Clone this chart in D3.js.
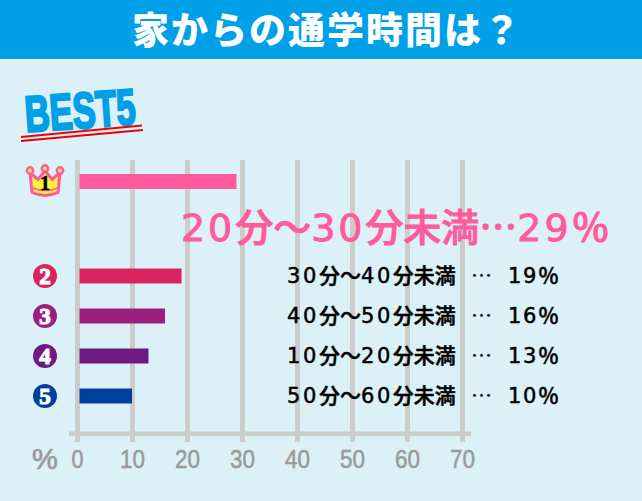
<!DOCTYPE html>
<html>
<head>
<meta charset="utf-8">
<script src="https://cdn.jsdelivr.net/npm/d3@7"></script>
<style>
html, body { margin: 0; padding: 0; background: #dcf0f7; }
svg { display: block; }
text { font-family: "Noto Sans CJK JP", sans-serif; }
</style>
</head>
<body>
<div id="chart"></div>
<script>
var titleText = "家からの通学時間は？";
var ranks = [1, 2, 3, 4, 5];
var categories = ["20分～30分未満", "30分～40分未満", "40分～50分未満", "10分～20分未満", "50分～60分未満"];
var values = [29, 19, 16, 13, 10];
var colors = ["#ff5a9d", "#d9245f", "#9c1f80", "#6f1a80", "#003f9e"];
var tickValues = [0, 10, 20, 30, 40, 50, 60, 70];

var width = 642, height = 501;

var svg = d3.select("#chart").append("svg")
    .attr("width", width)
    .attr("height", height);

// Digits are wide in the original, so they get their own font and spacing.
function addMixedText(sel, str, size, digitGap) {
    sel.attr("font-size", size).attr("font-weight", 500);
    str.match(/\d+|\D+/g).forEach(function(run) {
        var isDigits = /\d/.test(run);
        sel.append("tspan")
            .style("font-family", isDigits ? "'DejaVu Sans', sans-serif" : "'Noto Sans CJK JP', sans-serif")
            .style("letter-spacing", isDigits ? digitGap + "px" : "0px")
            .text(run);
    });
}

svg.append("rect").attr("width", width).attr("height", height).attr("fill", "#dcf0f7");

// Title band
svg.append("rect").attr("width", width).attr("height", 59).attr("fill", "#00a0e9");
svg.append("text")
    .attr("x", 132).attr("y", 44)
    .attr("fill", "#fff")
    .attr("font-size", 37)
    .attr("font-weight", 900)
    .attr("textLength", 388)
    .attr("lengthAdjust", "spacing")
    .text(titleText);

// BEST5 logo
var logo = svg.append("g").attr("transform", "translate(26,132) rotate(-4)");
logo.append("text")
    .attr("fill", "#00a0e9")
    .attr("stroke", "#00a0e9")
    .attr("stroke-width", 2.4)
    .attr("font-size", 51)
    .attr("font-weight", 700)
    .style("font-family", "'Liberation Sans Narrow', 'Liberation Sans', sans-serif")
    .attr("textLength", 111)
    .attr("lengthAdjust", "spacingAndGlyphs")
    .text("BEST5");
svg.append("path")
    .attr("d", "M21,137 L142,125.5 M21,141 L143,130")
    .attr("stroke", "#f00000")
    .attr("stroke-width", 2)
    .attr("fill", "none");

// Scales
var x = d3.scaleLinear().domain([0, 70]).range([77, 462]);
var y = d3.scaleLinear().domain([1, 2, 5]).range([181.5, 276, 396]);

// Axis: long ticks are the grey gridlines
var axisG = svg.append("g")
    .attr("transform", "translate(0,442)")
    .call(d3.axisBottom(x).tickValues(tickValues).tickSize(282).tickSizeOuter(0).tickPadding(0));
axisG.select(".domain").remove();
axisG.selectAll(".tick line")
    .attr("y1", 0).attr("y2", -282)
    .attr("stroke", "#cccccc")
    .attr("stroke-width", 5);
axisG.selectAll(".tick text")
    .attr("y", 26).attr("dy", 0)
    .attr("fill", "#999999")
    .attr("stroke", "#999999")
    .attr("stroke-width", 0.5)
    .attr("font-size", 25)
    .style("font-family", "'Liberation Sans Narrow', 'Liberation Sans', sans-serif")
    .attr("textLength", function(d) { return d === 0 ? 12 : 25; })
    .attr("lengthAdjust", "spacingAndGlyphs");

svg.append("rect")
    .attr("x", 69).attr("y", 431.5)
    .attr("width", 402).attr("height", 4.5)
    .attr("fill", "#cccccc");

svg.append("text")
    .attr("x", 45).attr("y", 469)
    .attr("text-anchor", "middle")
    .attr("fill", "#999999")
    .attr("stroke", "#999999")
    .attr("stroke-width", 0.7)
    .attr("font-size", 29)
    .style("font-family", "'Liberation Sans', sans-serif")
    .text("%");

// Bars
svg.selectAll("rect.bar")
    .data(values)
    .enter().append("rect")
    .attr("class", "bar")
    .attr("x", 79.5)
    .attr("y", function(d, i) { return y(ranks[i]) - 7.5; })
    .attr("width", function(d) { return x(d) - 79.5; })
    .attr("height", 15)
    .attr("fill", function(d, i) { return colors[i]; });

// Rank badges 2-5
var badges = svg.selectAll("g.badge")
    .data(ranks.slice(1))
    .enter().append("g")
    .attr("class", "badge")
    .attr("transform", function(d) { return "translate(45," + y(d) + ")"; });
badges.append("circle")
    .attr("r", 12)
    .attr("fill", function(d) { return colors[d - 1]; });
badges.append("text")
    .attr("text-anchor", "middle")
    .attr("y", 8)
    .attr("fill", "#fff")
    .attr("stroke", "#fff")
    .attr("stroke-width", 1.2)
    .attr("font-size", 23)
    .attr("font-weight", 700)
    .style("font-family", "'Liberation Serif', serif")
    .text(function(d) { return d; });

// Crown for rank 1
var crown = svg.append("g").attr("transform", "translate(45," + y(1) + ")");
crown.append("path")
    .attr("d", "M-15,-9 L-13,11 Q0,17 13,11 L15,-9 L7,-2 L0,-11 L-7,-2 Z")
    .attr("fill", "#fff23b")
    .attr("stroke", colors[0])
    .attr("stroke-width", 3)
    .attr("stroke-linejoin", "round");
crown.selectAll("circle.tip")
    .data([[-15, -11], [0, -13], [15, -11]])
    .enter().append("circle")
    .attr("class", "tip")
    .attr("cx", function(d) { return d[0]; })
    .attr("cy", function(d) { return d[1]; })
    .attr("r", 3.2)
    .attr("fill", "#fff23b")
    .attr("stroke", colors[0])
    .attr("stroke-width", 2.4);
crown.append("path")
    .attr("d", "M-14,6 Q0,12 14,6")
    .attr("fill", "none")
    .attr("stroke", colors[0])
    .attr("stroke-width", 1.6);
crown.append("text")
    .attr("text-anchor", "middle")
    .attr("y", 8)
    .attr("fill", "#000")
    .attr("stroke", "#000")
    .attr("stroke-width", 0.6)
    .attr("font-size", 20)
    .attr("font-weight", 700)
    .style("font-family", "'Liberation Serif', serif")
    .text("1");

// Labels
svg.append("text")
    .attr("x", 181).attr("y", 241)
    .attr("fill", colors[0])
    .attr("stroke", colors[0])
    .attr("stroke-width", 0.9)
    .call(addMixedText, categories[0] + "…" + values[0] + "％", 38, 2.9);

var labels = svg.selectAll("g.label")
    .data(ranks.slice(1))
    .enter().append("g")
    .attr("class", "label")
    .attr("transform", function(d) { return "translate(0," + (y(d) + 7) + ")"; });
labels.append("text")
    .attr("x", 287)
    .attr("fill", "#000")
    .attr("stroke", "#000")
    .attr("stroke-width", 0.5)
    .each(function(d) { addMixedText(d3.select(this), categories[d - 1], 21, 2.6); });
labels.append("text")
    .attr("x", 471)
    .attr("font-size", 21)
    .attr("fill", "#000")
    .text("…");
labels.append("text")
    .attr("x", 508)
    .attr("fill", "#000")
    .attr("stroke", "#000")
    .attr("stroke-width", 0.5)
    .each(function(d) { addMixedText(d3.select(this), values[d - 1] + "％", 21, 1.6); });
</script>
</body>
</html>
